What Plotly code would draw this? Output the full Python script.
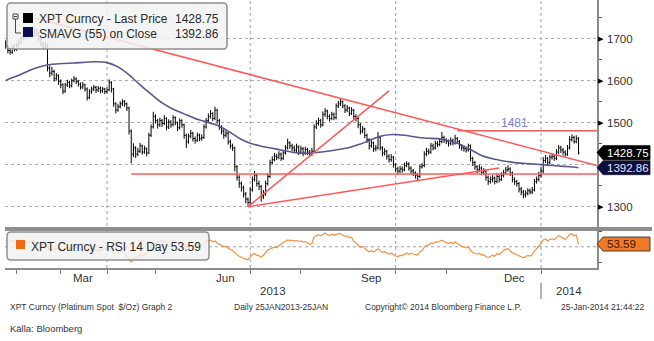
import pandas as pd
import plotly.graph_objects as go

# ---------------- data ----------------
first_open = 1690

close = [
    1683, 1672, 1668, 1680, 1675, 1685, 1692, 1700, 1712, 1705,
    1715, 1718, 1708, 1720, 1712, 1700, 1688, 1680, 1684, 1630,
    1618, 1622, 1605, 1612, 1598, 1590, 1575, 1590, 1596, 1588,
    1600, 1604, 1598, 1592, 1585, 1590, 1580, 1560, 1574, 1580,
    1584, 1578, 1582, 1576, 1580, 1574, 1578, 1596, 1580, 1545,
    1530, 1538, 1545, 1550, 1545, 1535, 1480, 1425, 1440, 1425,
    1432, 1445, 1430, 1438, 1428, 1470, 1490, 1515, 1505, 1495,
    1505, 1498, 1510, 1490, 1502, 1495, 1512, 1500, 1488, 1505,
    1495, 1470, 1455, 1468, 1475, 1462, 1458, 1470, 1462, 1465,
    1490, 1505, 1515, 1522, 1510, 1530, 1505, 1490, 1480, 1470,
    1475, 1455, 1445, 1440, 1395, 1370, 1355, 1345, 1330, 1318,
    1310, 1340, 1365, 1375, 1355, 1348, 1325, 1330, 1355, 1372,
    1405, 1412, 1420, 1418, 1425, 1415, 1428, 1440, 1452, 1445,
    1440, 1435, 1442, 1430, 1438, 1428, 1436, 1430, 1425, 1432,
    1490, 1498, 1505, 1495, 1520, 1528, 1515, 1510, 1520, 1512,
    1540, 1545, 1550, 1540, 1530, 1535, 1522, 1530, 1515, 1510,
    1495, 1480, 1485, 1470, 1460, 1445, 1452, 1438, 1440, 1465,
    1440, 1428, 1432, 1420, 1412, 1418, 1400, 1390, 1385, 1390,
    1388, 1398, 1402, 1392, 1385, 1380, 1375, 1372, 1395, 1398,
    1425, 1432, 1430, 1445, 1440, 1450, 1448, 1455, 1465, 1458,
    1455, 1450, 1458, 1452, 1462, 1455, 1445, 1440, 1438, 1435,
    1445, 1415, 1405, 1395, 1388, 1392, 1382, 1385, 1370, 1360,
    1365, 1368, 1360, 1372, 1365, 1375, 1380, 1388, 1390, 1380,
    1365, 1360, 1355, 1342, 1335, 1328, 1332, 1338, 1335, 1340,
    1360, 1365, 1375, 1385, 1410, 1415, 1405, 1418, 1420, 1415,
    1430, 1440, 1435, 1430, 1425, 1440, 1460, 1465, 1455, 1462,
    1428.75,
]

high = [
    1696, 1688, 1678, 1686, 1688, 1690, 1698, 1706, 1718, 1716,
    1721, 1726, 1722, 1727, 1724, 1716, 1704, 1693, 1692, 1688,
    1636, 1633, 1626, 1618, 1615, 1603, 1594, 1595, 1602, 1600,
    1605, 1611, 1608, 1602, 1596, 1597, 1593, 1584, 1580, 1586,
    1590, 1588, 1587, 1586, 1585, 1583, 1584, 1603, 1599, 1583,
    1549, 1545, 1551, 1556, 1554, 1548, 1538, 1484, 1451, 1444,
    1440, 1452, 1448, 1445, 1441, 1476, 1496, 1526, 1520, 1509,
    1512, 1509, 1518, 1513, 1508, 1506, 1518, 1515, 1503, 1510,
    1508, 1498, 1474, 1474, 1483, 1478, 1467, 1476, 1474, 1472,
    1496, 1511, 1522, 1530, 1525, 1538, 1533, 1509, 1494, 1485,
    1482, 1478, 1460, 1450, 1443, 1399, 1375, 1360, 1350, 1335,
    1322, 1346, 1372, 1385, 1379, 1362, 1352, 1340, 1362, 1380,
    1412, 1420, 1428, 1426, 1432, 1429, 1435, 1447, 1462, 1456,
    1450, 1446, 1450, 1446, 1445, 1442, 1443, 1440, 1435, 1440,
    1496, 1506, 1512, 1509, 1527, 1535, 1531, 1520, 1526, 1524,
    1546, 1552, 1556, 1553, 1544, 1542, 1538, 1537, 1533, 1520,
    1513, 1499, 1492, 1488, 1474, 1463, 1459, 1455, 1447, 1478,
    1468, 1444, 1439, 1435, 1425, 1425, 1421, 1404, 1395, 1397,
    1396, 1405, 1408, 1406, 1396, 1390, 1384, 1380, 1400, 1404,
    1432, 1440, 1438, 1452, 1450, 1457, 1456, 1462, 1478, 1469,
    1463, 1460, 1465, 1462, 1471, 1466, 1459, 1449, 1446, 1443,
    1450, 1448, 1419, 1409, 1399, 1400, 1396, 1392, 1389, 1374,
    1372, 1375, 1372, 1379, 1376, 1382, 1388, 1395, 1399, 1394,
    1384, 1370, 1364, 1359, 1347, 1340, 1339, 1344, 1343, 1347,
    1366, 1372, 1383, 1395, 1418, 1423, 1419, 1424, 1427, 1425,
    1437, 1447, 1445, 1440, 1434, 1447, 1468, 1472, 1469, 1470,
    1466,
]

low = [
    1676, 1665, 1662, 1664, 1670, 1671, 1681, 1688, 1696, 1700,
    1701, 1710, 1703, 1704, 1706, 1694, 1682, 1674, 1676, 1622,
    1608, 1612, 1598, 1600, 1590, 1582, 1568, 1571, 1585, 1582,
    1584, 1596, 1592, 1586, 1579, 1580, 1574, 1553, 1556, 1569,
    1575, 1571, 1573, 1570, 1571, 1568, 1570, 1575, 1572, 1538,
    1522, 1526, 1534, 1540, 1538, 1528, 1472, 1403, 1418, 1416,
    1420, 1428, 1424, 1426, 1420, 1425, 1466, 1486, 1498, 1486,
    1490, 1490, 1494, 1482, 1485, 1488, 1491, 1494, 1480, 1484,
    1488, 1462, 1440, 1450, 1463, 1455, 1450, 1454, 1456, 1457,
    1461, 1486, 1500, 1510, 1504, 1506, 1498, 1483, 1472, 1462,
    1465, 1448, 1438, 1433, 1384, 1362, 1345, 1336, 1322, 1308,
    1302, 1306, 1336, 1360, 1348, 1340, 1312, 1318, 1326, 1350,
    1368, 1400, 1408, 1411, 1413, 1409, 1411, 1424, 1436, 1438,
    1432, 1428, 1430, 1423, 1426, 1420, 1424, 1423, 1418, 1421,
    1429, 1485, 1493, 1488, 1491, 1514, 1508, 1503, 1506, 1506,
    1508, 1535, 1540, 1534, 1523, 1525, 1516, 1518, 1508, 1503,
    1487, 1472, 1475, 1463, 1452, 1436, 1440, 1430, 1432, 1436,
    1434, 1420, 1422, 1412, 1405, 1407, 1393, 1382, 1376, 1380,
    1381, 1384, 1394, 1386, 1378, 1373, 1367, 1363, 1368, 1391,
    1394, 1420, 1424, 1426, 1434, 1436, 1442, 1444, 1451, 1452,
    1449, 1443, 1446, 1446, 1448, 1449, 1438, 1433, 1431, 1429,
    1431, 1408, 1397, 1388, 1380, 1382, 1375, 1376, 1362, 1352,
    1355, 1358, 1353, 1356, 1358, 1361, 1370, 1376, 1383, 1373,
    1358, 1352, 1348, 1334, 1327, 1320, 1322, 1327, 1329, 1330,
    1336, 1355, 1360, 1370, 1380, 1404, 1398, 1401, 1412, 1409,
    1411, 1425, 1428, 1422, 1419, 1421, 1436, 1455, 1450, 1451,
    1424,
]

rsi14 = [
    58.2, 57.5, 56.8, 58.0, 57.4, 57.0, 58.3, 59.1, 57.6, 56.4,
    56.0, 57.2, 58.5, 57.1, 55.8, 55.0, 53.6, 52.2, 53.0, 49.5,
    46.8, 47.5, 45.9, 48.0, 46.5, 46.9, 45.2, 48.1, 49.3, 48.2,
    50.1, 51.0, 49.4, 48.0, 46.7, 46.2, 45.5, 43.0, 44.2, 45.0,
    44.1, 45.6, 44.8, 45.5, 46.3, 46.0, 47.2, 48.5, 45.3, 42.0,
    41.8, 42.9, 43.6, 44.1, 41.5, 38.2, 33.5, 30.2, 33.8, 36.1,
    38.0, 39.5, 37.8, 40.1, 41.2, 45.0, 50.2, 55.1, 54.0, 56.2,
    57.8, 56.5, 58.4, 55.9, 57.0, 56.7, 58.1, 57.2, 55.4, 57.3,
    56.0, 51.5, 49.8, 51.6, 52.8, 51.4, 50.9, 52.7, 51.9, 52.6,
    55.0, 56.8, 57.9, 58.6, 56.4, 57.6, 55.0, 53.1, 51.8, 50.2,
    50.5, 48.1, 46.4, 45.3, 41.6, 39.4, 37.6, 36.8, 35.0, 33.9,
    33.2, 36.5, 39.8, 41.0, 38.9, 38.2, 36.5, 39.0, 43.2, 46.0,
    47.2, 48.0, 49.5, 49.0, 51.8, 53.5, 55.2, 57.4, 59.0, 58.2,
    58.8, 57.5, 58.3, 56.9, 57.6, 56.2, 56.8, 55.4, 53.0, 54.2,
    62.5, 64.4, 65.6, 64.2, 66.5, 68.0, 65.7, 64.8, 66.3, 65.0,
    66.2, 66.8, 67.5, 64.9, 63.5, 64.2, 61.8, 62.5, 57.1, 55.0,
    52.4, 49.3, 50.5, 47.1, 45.2, 43.5, 45.0, 43.2, 44.8, 47.5,
    45.0, 42.8, 43.5, 41.9, 40.5, 41.6, 39.2, 38.0, 37.3, 38.8,
    38.5, 40.8, 41.9, 40.2, 41.5, 40.6, 39.8, 39.2, 43.5, 45.2,
    49.5, 52.3, 51.8, 55.0, 54.1, 56.5, 56.0, 57.4, 58.6, 56.8,
    55.7, 54.2, 55.9, 54.0, 56.3, 54.1, 51.8, 50.6, 49.8, 48.6,
    50.0, 45.2, 42.5, 41.2, 40.3, 41.5, 39.0, 39.8, 37.0, 35.8,
    37.2, 39.0, 37.5, 41.2, 40.0, 43.0, 45.1, 47.0, 47.6, 44.5,
    42.0, 41.0, 39.6, 38.1, 36.8, 35.5, 37.0, 38.6, 37.9, 39.5,
    44.5, 47.2, 51.0, 54.3, 58.9, 60.2, 57.6, 59.8, 60.4, 59.1,
    62.3, 64.5, 63.0, 60.6, 59.4, 62.5, 66.2, 67.0, 64.1, 65.3,
    53.59,
]

sma_dates = [
    "2013-01-25", "2013-01-28", "2013-02-04", "2013-02-11", "2013-02-18",
    "2013-02-25", "2013-03-04", "2013-03-11", "2013-03-18", "2013-03-25",
    "2013-04-01", "2013-04-08", "2013-04-15", "2013-04-22", "2013-04-29",
    "2013-05-06", "2013-05-13", "2013-05-20", "2013-05-27", "2013-06-03",
    "2013-06-10", "2013-06-17", "2013-06-24", "2013-07-01", "2013-07-08",
    "2013-07-15", "2013-07-22", "2013-07-29", "2013-08-05", "2013-08-12",
    "2013-08-19", "2013-08-26", "2013-09-02", "2013-09-09", "2013-09-16",
    "2013-09-23", "2013-09-30", "2013-10-07", "2013-10-14", "2013-10-21",
    "2013-10-28", "2013-11-04", "2013-11-11", "2013-11-18", "2013-11-25",
    "2013-12-02", "2013-12-09", "2013-12-16", "2013-12-23", "2013-12-30",
    "2014-01-06", "2014-01-13", "2014-01-20", "2014-01-24",
]
sma55 = [
    1600, 1603, 1613, 1625, 1634, 1639, 1641, 1642, 1644, 1645,
    1643, 1633, 1614, 1590, 1568, 1547, 1532, 1521, 1510, 1502,
    1494, 1480, 1463, 1451, 1444, 1439, 1434, 1429, 1427, 1429,
    1432, 1436, 1441, 1449, 1460, 1469, 1472, 1470, 1466, 1463,
    1462, 1457, 1449, 1436, 1422, 1414, 1409, 1405, 1403, 1401,
    1399, 1397, 1395, 1392.86,
]

price_ticks = [1300, 1400, 1500, 1600, 1700]
price_tick_text = ["1300", "", "1500", "1600", "1700"]
month_starts = ["2013-02-01", "2013-03-01", "2013-04-01", "2013-05-01", "2013-06-01",
                "2013-07-01", "2013-08-01", "2013-09-01", "2013-10-01", "2013-11-01",
                "2013-12-01", "2014-01-01", "2014-02-01"]
quarter_starts = ["2013-04-01", "2013-07-01", "2013-10-01", "2014-01-01"]
month_labels = {"Mar": "2013-03-15", "Jun": "2013-06-14", "Sep": "2013-09-16", "Dec": "2013-12-16"}

resistance_level = 1481
support_level = 1378

dates = pd.bdate_range("2013-01-25", periods=len(close))
opens = [first_open] + close[:-1]

x_start = "2013-01-24 16:48"
x_end = "2014-02-05 09:36"

# ---------------- geometry helpers (pixel -> paper) ----------------
L, T, W, H = 5, 0, 592, 268


def fx(px):
    return (px - L) / W


def fy(py):
    return (T + H - py) / H


RED = "#ff5a5a"
FONT = "Liberation Sans, Arial, sans-serif"

fig = go.Figure()

# price bars
fig.add_trace(go.Ohlc(
    x=dates, open=opens, high=high, low=low, close=close,
    increasing=dict(line=dict(color="black", width=1)),
    decreasing=dict(line=dict(color="black", width=1)),
    tickwidth=0.45, xaxis="x", yaxis="y", hoverinfo="skip", showlegend=False,
))

# 55-day simple moving average
fig.add_trace(go.Scatter(
    x=sma_dates, y=sma55, mode="lines", xaxis="x", yaxis="y",
    line=dict(color="#58588f", width=1.6, shape="spline", smoothing=0.6),
    hoverinfo="skip", showlegend=False,
))

# trend lines
trend_lines = [
    (["2013-02-13", x_end], [1749, 1398]),
    ([dates[57], x_end], [support_level, support_level]),
    ([dates[205], x_end], [resistance_level, resistance_level]),
    ([dates[110], dates[174]], [1300, 1576]),
    ([dates[110], dates[224]], [1300, 1392]),
]
for xs, ys in trend_lines:
    fig.add_trace(go.Scatter(
        x=xs, y=ys, mode="lines", xaxis="x", yaxis="y",
        line=dict(color=RED, width=1.6), hoverinfo="skip", showlegend=False,
    ))

# RSI panel
fig.add_trace(go.Scatter(
    x=dates, y=rsi14, mode="lines", xaxis="x2", yaxis="y2",
    line=dict(color="#f5903f", width=1.2), hoverinfo="skip", showlegend=False,
))

shapes = []
annotations = []

# quarter gridlines
for q in quarter_starts:
    shapes.append(dict(type="line", xref="x", yref="paper", x0=q, x1=q, y0=0, y1=1,
                       line=dict(color="#a0a0a0", width=1, dash="dot"), layer="below"))
# RSI mid line
shapes.append(dict(type="line", xref="paper", yref="y2", x0=0, x1=1, y0=50, y1=50,
                   line=dict(color="#a0a0a0", width=1, dash="dot"), layer="below"))

# separator between panels
shapes.append(dict(type="rect", xref="paper", yref="paper", x0=fx(5), x1=fx(652),
                   y0=fy(231), y1=fy(227), fillcolor="#8e8e8e", line=dict(width=0)))

# main legend box
shapes.append(dict(type="path", xref="paper", yref="paper", xsizemode="pixel", ysizemode="pixel",
                   xanchor=fx(7), yanchor=fy(3),
                   path="M4,0 L216,0 Q220,0 220,-4 L220,-42 Q220,-46 216,-46 L4,-46 Q0,-46 0,-42 L0,-4 Q0,0 4,0 Z",
                   fillcolor="rgba(242,242,242,0.86)", line=dict(color="#8f8f8f", width=1.5)))
shapes.append(dict(type="path", xref="paper", yref="paper", xsizemode="pixel", ysizemode="pixel",
                   xanchor=fx(7), yanchor=fy(3), path="M16,-10 L26,-10 L26,-20 L16,-20 Z",
                   fillcolor="black", line=dict(width=0)))
shapes.append(dict(type="path", xref="paper", yref="paper", xsizemode="pixel", ysizemode="pixel",
                   xanchor=fx(7), yanchor=fy(3), path="M16,-24 L26,-24 L26,-34 L16,-34 Z",
                   fillcolor="#0a0a50", line=dict(width=0)))
shapes.append(dict(type="path", xref="paper", yref="paper", xsizemode="pixel", ysizemode="pixel",
                   xanchor=fx(7), yanchor=fy(3), path="M6,-11 L11,-11 L11,-16 L6,-16 Z",
                   line=dict(color="#444", width=1)))
shapes.append(dict(type="path", xref="paper", yref="paper", xsizemode="pixel", ysizemode="pixel",
                   xanchor=fx(7), yanchor=fy(3), path="M7,-13.5 L10,-13.5 M8.5,-16 L8.5,-30 L14,-30",
                   line=dict(color="#444", width=1)))

# RSI legend box
shapes.append(dict(type="path", xref="paper", yref="paper", xsizemode="pixel", ysizemode="pixel",
                   xanchor=fx(7), yanchor=fy(232),
                   path="M4,0 L198,0 Q202,0 202,-4 L202,-24 Q202,-28 198,-28 L4,-28 Q0,-28 0,-24 L0,-4 Q0,0 4,0 Z",
                   fillcolor="rgba(242,242,242,0.82)", line=dict(color="#8f8f8f", width=1.5)))
shapes.append(dict(type="path", xref="paper", yref="paper", xsizemode="pixel", ysizemode="pixel",
                   xanchor=fx(7), yanchor=fy(232), path="M9,-8 L18,-8 L18,-17 L9,-17 Z",
                   fillcolor="#f26a10", line=dict(width=0)))

# last value tags on the right axis
tags = [
    ("y", close[-1], "black", "white"),
    ("y", sma55[-1], "#0d0d45", "#e8e8f2"),
    ("y2", rsi14[-1], "#f07a25", "#3b1800"),
]
for yref, val, bg, fg in tags:
    shapes.append(dict(type="path", xref="paper", yref=yref, xsizemode="pixel", ysizemode="pixel",
                       xanchor=1, yanchor=val, path="M0,0 L6,7 L53,7 L53,-7 L6,-7 Z",
                       fillcolor=bg, line=dict(color="#222" if bg != "black" else "black", width=0.8)))
    annotations.append(dict(xref="paper", yref=yref, x=1, y=val, xanchor="left", yanchor="middle",
                            xshift=8, text=f"{val:.2f}", showarrow=False,
                            font=dict(family=FONT, size=11.5, color=fg)))

# major tick pointers on the price axis
for v in [1300, 1500, 1600, 1700]:
    annotations.append(dict(xref="paper", yref="y", x=1, y=v, xanchor="left", yanchor="middle",
                            xshift=-1, text="\u25B6", showarrow=False,
                            font=dict(family="DejaVu Sans", size=7, color="black")))

# legend texts
annotations += [
    dict(xref="paper", yref="paper", x=fx(37), y=fy(18.5), xanchor="left", yanchor="middle",
         text="XPT Curncy - Last Price", showarrow=False, font=dict(family=FONT, size=12, color="#2a2a2a")),
    dict(xref="paper", yref="paper", x=fx(221), y=fy(18.5), xanchor="right", yanchor="middle",
         text=f"{close[-1]:.2f}", showarrow=False, font=dict(family=FONT, size=12, color="#2a2a2a")),
    dict(xref="paper", yref="paper", x=fx(37), y=fy(33.5), xanchor="left", yanchor="middle",
         text="SMAVG (55) on Close", showarrow=False, font=dict(family=FONT, size=12, color="#2a2a2a")),
    dict(xref="paper", yref="paper", x=fx(221), y=fy(33.5), xanchor="right", yanchor="middle",
         text=f"{sma55[-1]:.2f}", showarrow=False, font=dict(family=FONT, size=12, color="#2a2a2a")),
    dict(xref="paper", yref="paper", x=fx(29), y=fy(246.5), xanchor="left", yanchor="middle",
         text=f"XPT Curncy - RSI 14 Day {rsi14[-1]:.2f}", showarrow=False,
         font=dict(family=FONT, size=12, color="#2a2a2a")),
]

# resistance label
annotations.append(dict(xref="x", yref="y", x=dates[231], y=resistance_level, yanchor="bottom",
                        xanchor="center", text=str(resistance_level), showarrow=False, yshift=-1,
                        font=dict(family=FONT, size=12, color="#8080dd")))

# month and year labels
for name, d in month_labels.items():
    annotations.append(dict(xref="x", yref="paper", x=d, y=fy(278), xanchor="center", yanchor="middle",
                            text=name, showarrow=False, font=dict(family=FONT, size=11.5, color="#333")))
annotations.append(dict(xref="paper", yref="paper", x=fx(273), y=fy(291), xanchor="center",
                        yanchor="middle", text="2013", showarrow=False,
                        font=dict(family=FONT, size=11.5, color="#333")))
annotations.append(dict(xref="paper", yref="paper", x=fx(569), y=fy(291), xanchor="center",
                        yanchor="middle", text="2014", showarrow=False,
                        font=dict(family=FONT, size=11.5, color="#333")))
shapes.append(dict(type="line", xref="x", yref="paper", x0="2014-01-01", x1="2014-01-01",
                   y0=fy(299), y1=fy(283), line=dict(color="#9a9a9a", width=1.5)))

# footer texts
footer = [
    (8, 307, "XPT Curncy (Platinum Spot  $/Oz) Graph 2", 8.5),
    (232, 307, "Daily 25JAN2013-25JAN", 8.5),
    (363, 307, "Copyright\u00a9 2014 Bloomberg Finance L.P.", 8.5),
    (559, 307, "25-Jan-2014 21:44:22", 8.5),
    (8, 328, "Källa: Bloomberg", 9.5),
]
for px, py, txt, sz in footer:
    annotations.append(dict(xref="paper", yref="paper", x=fx(px), y=fy(py), xanchor="left",
                            yanchor="middle", text=txt, showarrow=False,
                            font=dict(family=FONT, size=sz, color="#333")))

fig.update_layout(
    width=654, height=341,
    margin=dict(l=L, r=654 - L - W, t=T, b=341 - T - H),
    paper_bgcolor="white", plot_bgcolor="white",
    showlegend=False,
    font=dict(family=FONT, size=11.5, color="#333"),
    xaxis=dict(domain=[0, 1], anchor="y", type="date", range=[x_start, x_end],
               rangebreaks=[dict(bounds=["sat", "mon"])], showticklabels=False, ticks="",
               showgrid=False, zeroline=False, showline=False, rangeslider=dict(visible=False)),
    yaxis=dict(domain=[fy(227), 1], anchor="x", side="right", range=[1251.7, 1792.1],
               tickvals=price_ticks, ticktext=price_tick_text, ticks="",
               ticklabelstandoff=6, tickfont=dict(family=FONT, size=11.5, color="#333"),
               showgrid=True, gridcolor="#adadad", griddash="dot", gridwidth=1,
               showline=True, linecolor="#8c8c8c", linewidth=1.5, zeroline=False,
               minor=dict(dtick=50, tick0=1250, ticks="outside", ticklen=3, tickcolor="#555",
                          showgrid=False)),
    xaxis2=dict(domain=[0, 1], anchor="y2", type="date", matches="x", range=[x_start, x_end],
                rangebreaks=[dict(bounds=["sat", "mon"])], tickvals=month_starts,
                showticklabels=False, ticks="outside", ticklen=4, tickcolor="#777",
                showgrid=False, zeroline=False, showline=True, linecolor="#8c8c8c", linewidth=1.5),
    yaxis2=dict(domain=[0, fy(231)], anchor="x2", side="right", range=[22.3, 70.6],
                tickvals=[30, 50, 70], ticktext=["", "", ""], ticks="outside", ticklen=3,
                tickcolor="#555", showgrid=False, zeroline=False,
                showline=True, linecolor="#8c8c8c", linewidth=1.5),
    shapes=shapes,
    annotations=annotations,
)

fig.write_html("out.html")
